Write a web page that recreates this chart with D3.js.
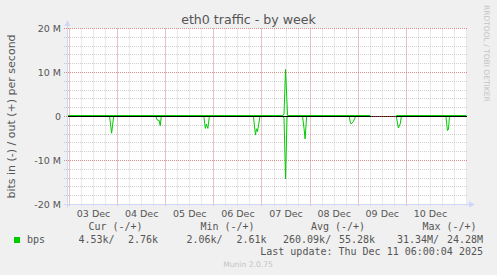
<!DOCTYPE html>
<html><head><meta charset="utf-8">
<script src="https://cdn.jsdelivr.net/npm/d3@7"></script>
<style>html,body{margin:0;padding:0;background:#F0F0F0;} svg{display:block;}</style>
</head><body>
<svg id="c" width="497" height="275"></svg>
<script>
// ---------- data ----------
const chartTitle = "eth0 traffic - by week";
const yAxisLabel = "bits in (-) / out (+) per second";
const yTickValues = [-20, -10, 0, 10, 20];           // Mbit/s
const yTickLabels = ["-20 M", "-10 M", "0", "10 M", "20 M"];
const dayTickDates = ["2025-12-03", "2025-12-04", "2025-12-05", "2025-12-06", "2025-12-07", "2025-12-08", "2025-12-09", "2025-12-10"];
const dayTickLabels = ["03 Dec", "04 Dec", "05 Dec", "06 Dec", "07 Dec", "08 Dec", "09 Dec", "10 Dec"];

// out (+), Mbit/s ; null = no data
const outTimes = ["2025-12-02T22:45", "2025-12-07T10:30", "2025-12-07T11:00", "2025-12-07T11:45", "2025-12-07T12:45",
  "2025-12-09T06:00", "2025-12-09T06:30", "2025-12-09T18:30", "2025-12-09T19:00", "2025-12-11T06:00"];
const outValues = [0.23, 0.23, 0.6, 10.7, 0.23, 0.23, null, null, 0.23, 0.23];

// in (-), Mbit/s ; null = no data
const inTimes = ["2025-12-02T22:45",
  "2025-12-03T20:00", "2025-12-03T21:00", "2025-12-03T22:00",
  "2025-12-04T19:00", "2025-12-04T19:45", "2025-12-04T20:45", "2025-12-04T21:15", "2025-12-04T21:45",
  "2025-12-05T19:00", "2025-12-05T19:45", "2025-12-05T20:15", "2025-12-05T21:00", "2025-12-05T21:45",
  "2025-12-06T19:45", "2025-12-06T20:45", "2025-12-06T21:15", "2025-12-06T21:45", "2025-12-06T23:00",
  "2025-12-07T10:30", "2025-12-07T11:00", "2025-12-07T11:45", "2025-12-07T12:30",
  "2025-12-07T20:15", "2025-12-07T21:00", "2025-12-07T21:30", "2025-12-07T22:15",
  "2025-12-08T19:30", "2025-12-08T20:00", "2025-12-08T20:30", "2025-12-08T21:30", "2025-12-08T22:15", "2025-12-08T22:45",
  "2025-12-09T06:00", "2025-12-09T06:30", "2025-12-09T18:30",
  "2025-12-09T19:00", "2025-12-09T20:00", "2025-12-09T21:00", "2025-12-09T21:30",
  "2025-12-10T19:45", "2025-12-10T20:30", "2025-12-10T21:00", "2025-12-10T21:30",
  "2025-12-11T06:00"];
const inValues = [0,
  0, -3.8, 0,
  0, -0.8, -0.9, -2.1, 0,
  0, -2.7, -1.7, -2.7, 0,
  0, -4.2, -2.8, -3.4, 0,
  0, -0.4, -14.2, 0,
  0, -2.8, -5.1, 0,
  0, -1.2, -1.7, -1.2, -0.4, 0,
  0, null, null,
  0, -2.6, -1.6, 0,
  0, -3.2, -2.9, 0,
  0];

const legendSeries = "bps";
const legendHeaders = ["Cur (-/+)", "Min (-/+)", "Avg (-/+)", "Max (-/+)"];
const legendIn = ["4.53k", "2.06k", "260.09k", "31.34M"];
const legendOut = ["2.76k", "2.61k", "55.28k", "24.28M"];
const lastUpdate = "Last update: Thu Dec 11 06:00:04 2025";
const footer = "Munin 2.0.75";
const watermark = "RRDTOOL / TOBI OETIKER";

// ---------- drawing ----------
const svg = d3.select("#c");
const parse = s => new Date(s.length > 10 ? s + ":00Z" : s + "T00:00:00Z");
const L = 67, R = 467, T = 28.5, B = 204.5;
const x = d3.scaleUtc().domain([parse("2025-12-02T22:45"), parse("2025-12-11T06:15")]).range([L, R]);
const y = d3.scaleLinear().domain([-20, 20]).range([B, T]);
const crisp = v => Math.round(v - 0.5) + 0.5;
const textCol = "#555";
const sans = "'DejaVu Sans', sans-serif";
const mono = "'DejaVu Sans Mono', monospace";
const minorCol = "rgba(143,143,143,0.42)";
const majorCol = "rgba(230,80,80,0.5)";

svg.append("rect").attr("width", 497).attr("height", 275).attr("fill", "#F0F0F0");
svg.append("rect").attr("x", L).attr("y", T - 0.5).attr("width", R - L).attr("height", B - T + 0.5).attr("fill", "#fff");

const grid = svg.append("g");
// minor grid: every 6 hours, every 2 M
const minorX = d3.utcHour.every(6).range(x.domain()[0], x.domain()[1]);
grid.selectAll(".mx").data(minorX).join("line")
  .attr("x1", d => crisp(x(d))).attr("x2", d => crisp(x(d)))
  .attr("y1", T).attr("y2", B + 2)
  .attr("stroke", minorCol).attr("stroke-dasharray", "1,1");
const minorY = d3.range(-20, 21, 2);
grid.selectAll(".my").data(minorY).join("line")
  .attr("x1", L - 3).attr("x2", R)
  .attr("y1", d => crisp(y(d))).attr("y2", d => crisp(y(d)))
  .attr("stroke", minorCol).attr("stroke-dasharray", "1,1");

// major grid
const majorX = dayTickDates.map(parse);
const mg = svg.append("g");
mg.selectAll(".Mx").data(majorX).join("line")
  .attr("x1", d => crisp(x(d))).attr("x2", d => crisp(x(d)))
  .attr("y1", T).attr("y2", B + 2)
  .attr("stroke", majorCol).attr("stroke-dasharray", "1,1");
mg.selectAll(".My").data(yTickValues).join("line")
  .attr("x1", L - 3).attr("x2", R)
  .attr("y1", d => crisp(y(d))).attr("y2", d => crisp(y(d)))
  .attr("stroke", majorCol).attr("stroke-dasharray", "1,1");

// data lines
const line = d3.line().defined(d => d[1] !== null).x(d => x(d[0])).y(d => y(d[1]));
const inData = inTimes.map((t, i) => [parse(t), inValues[i]]);
const outData = outTimes.map((t, i) => [parse(t), outValues[i]]);
svg.append("path").attr("d", line(inData)).attr("fill", "none").attr("stroke", "#00CC00").attr("stroke-width", 1);

// zero line (solid where data exists, dotted over the gap)
const y0 = crisp(y(0));
svg.append("line").attr("x1", L).attr("x2", R).attr("y1", y0).attr("y2", y0)
  .attr("stroke", "#000").attr("stroke-width", 1);
const gapStartIdx = outValues.indexOf(null) - 1;
const gapEndIdx = outValues.lastIndexOf(null) + 1;
svg.append("line").attr("x1", x(parse(outTimes[gapStartIdx])) + 1).attr("x2", x(parse(outTimes[gapEndIdx])))
  .attr("y1", y0).attr("y2", y0).attr("stroke", "rgba(230,80,80,0.8)").attr("stroke-dasharray", "1,1");

svg.append("path").attr("d", line(outData)).attr("fill", "none").attr("stroke", "#00CC00").attr("stroke-width", 1);

// axes
const axisCol = "#CFD6F8";
svg.append("line").attr("x1", L + 0.5).attr("x2", L + 0.5).attr("y1", B + 3).attr("y2", 24).attr("stroke", axisCol);
svg.append("path").attr("d", `M${L - 2.5},26 L${L + 0.5},20 L${L + 3.5},26 Z`).attr("fill", axisCol);
svg.append("line").attr("x1", L - 3).attr("x2", R + 4).attr("y1", B).attr("y2", B).attr("stroke", axisCol);
svg.append("path").attr("d", `M${R + 2},${B - 3} L${R + 8},${B} L${R + 2},${B + 3} Z`).attr("fill", axisCol);

// y tick labels
svg.selectAll(".yl").data(yTickValues).join("text")
  .attr("x", 61).attr("y", d => y(d) + 3.5).attr("text-anchor", "end")
  .attr("font-family", sans).attr("font-size", 9.5).attr("fill", textCol)
  .text((d, i) => yTickLabels[i]);

// x tick labels at midday
svg.selectAll(".xl").data(majorX).join("text")
  .attr("x", d => x(d3.utcHour.offset(d, 12))).attr("y", 216.5).attr("text-anchor", "middle")
  .attr("font-family", sans).attr("font-size", 9.5).attr("fill", textCol)
  .text((d, i) => dayTickLabels[i]);

// title
svg.append("text").attr("x", 248.5).attr("y", 24).attr("text-anchor", "middle")
  .attr("font-family", sans).attr("font-size", 12.6).attr("fill", textCol).text(chartTitle);

// y axis label
svg.append("text").attr("transform", `translate(14.5,${(T + B) / 2}) rotate(-90)`).attr("text-anchor", "middle")
  .attr("font-family", sans).attr("font-size", 11).attr("fill", textCol).text(yAxisLabel);

// watermark
svg.append("text").attr("transform", "translate(484,5) rotate(90)").attr("text-anchor", "start")
  .attr("font-family", sans).attr("font-size", 7.5).attr("fill", "#c4c4c4").text(watermark);

// legend
const headerX = [115.5, 227.5, 338, 449.5];
const inStartX = [78.5, 186.5, 283, 397];
const outEndX = [158, 266.5, 375, 483];
svg.selectAll(".lh").data(legendHeaders).join("text")
  .attr("x", (d, i) => headerX[i]).attr("y", 230).attr("text-anchor", "middle")
  .attr("font-family", mono).attr("font-size", 10).attr("fill", textCol).text(d => d);
svg.append("rect").attr("x", 14).attr("y", 237).attr("width", 6).attr("height", 6).attr("fill", "#00CC00");
svg.append("text").attr("x", 27).attr("y", 242.5).attr("font-family", mono).attr("font-size", 10).attr("fill", textCol).text(legendSeries);
svg.selectAll(".li").data(legendIn).join("text")
  .attr("x", (d, i) => inStartX[i]).attr("y", 242.5).attr("text-anchor", "start")
  .attr("font-family", mono).attr("font-size", 10).attr("fill", textCol).text(d => d + "/");
svg.selectAll(".lo").data(legendOut).join("text")
  .attr("x", (d, i) => outEndX[i]).attr("y", 242.5).attr("text-anchor", "end")
  .attr("font-family", mono).attr("font-size", 10).attr("fill", textCol).text(d => d);
svg.append("text").attr("x", 483).attr("y", 255).attr("text-anchor", "end")
  .attr("font-family", mono).attr("font-size", 10).attr("fill", textCol).text(lastUpdate);
svg.append("text").attr("x", 248).attr("y", 266.5).attr("text-anchor", "middle")
  .attr("font-family", sans).attr("font-size", 7.6).attr("fill", "#c4c4c4").text(footer);
</script>
</body></html>
